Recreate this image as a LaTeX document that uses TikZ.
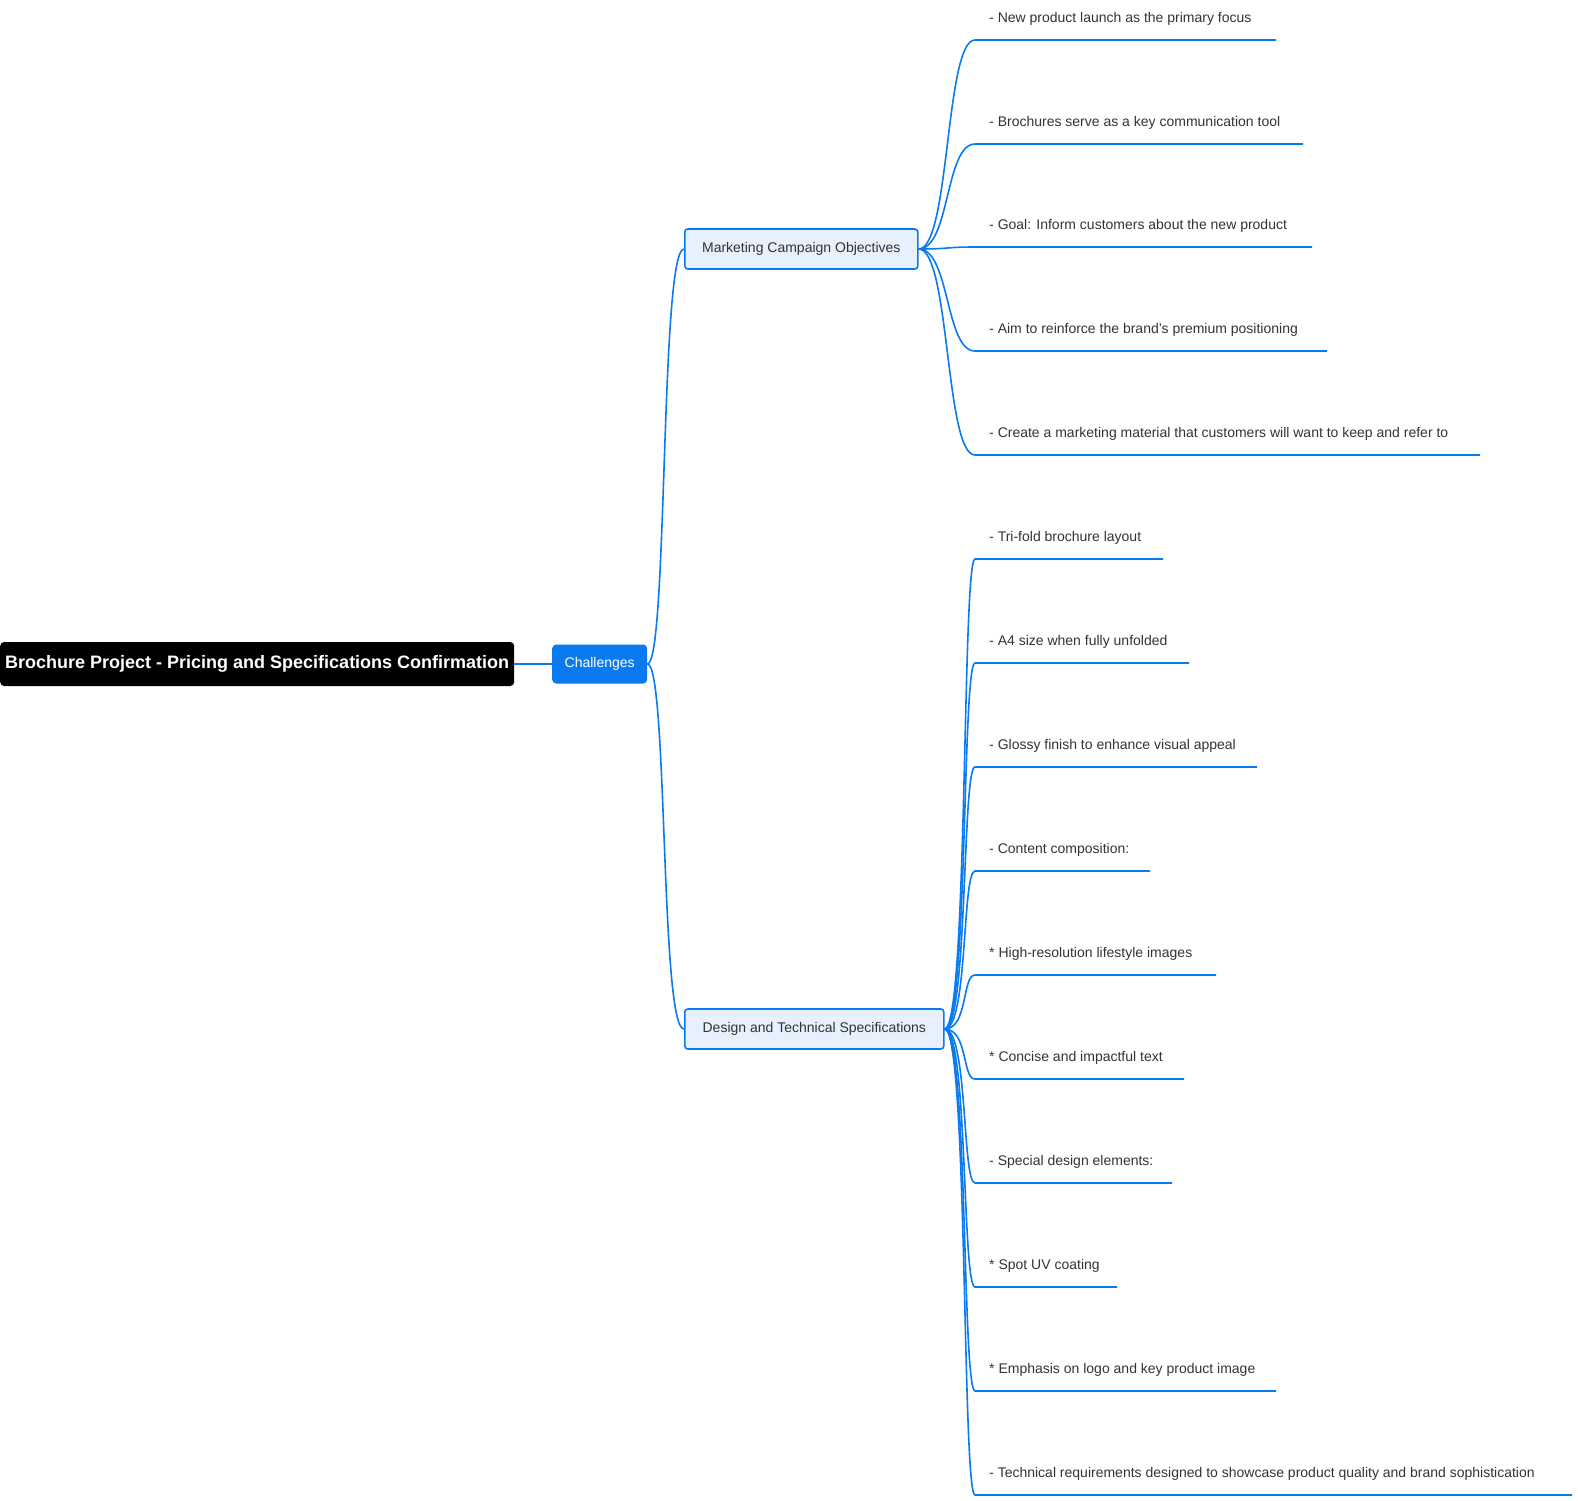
\documentclass[tikz,border=0pt]{standalone}
\usepackage{fontspec}
\setmainfont{Liberation Sans}
\definecolor{mblue}{HTML}{0A7AF0}
\definecolor{lblue}{HTML}{E6F1FD}
\definecolor{txt}{HTML}{333333}
\begin{document}
\begin{tikzpicture}[x=1pt,y=-1pt,
  conn/.style={draw=mblue,line width=1.6pt},
  leaf/.style={anchor=south west,inner sep=0pt,font=\fontsize{14}{16}\selectfont,text=txt},
  sub/.style={draw=mblue,line width=1.6pt,fill=lblue,rounded corners=3pt,minimum height=40pt,inner xsep=12pt,font=\fontsize{14}{16}\selectfont,text=txt}]
\useasboundingbox (0,0) rectangle (1578,1500);
\node[fill=black,rounded corners=4pt,text=white,font=\bfseries\fontsize{18}{20}\selectfont,minimum width=514pt,minimum height=44pt,anchor=west] (root) at (0,664) {Brochure Project - Pricing and Specifications Confirmation};
\node[fill=mblue,rounded corners=4pt,text=white,font=\fontsize{14}{16}\selectfont,minimum width=95pt,minimum height=39pt,anchor=west] (ch) at (552,664) {Challenges};
\node[sub,anchor=west,minimum width=233pt] (mk) at (684,249) {Marketing Campaign Objectives};
\node[sub,anchor=west,minimum width=259pt] (ds) at (684,1029) {Design and Technical Specifications};
\draw[conn] (root.east) -- (ch.west);
\draw[conn] (ch.east) .. controls (668,664) and (660,249) .. (mk.west);
\draw[conn] (ch.east) .. controls (668,664) and (660,1029) .. (ds.west);
\foreach \y/\e/\t [count=\i] in {40/1276/{- New product launch as the primary focus},144/1303/{- Brochures serve as a key communication tool},247/1312/{- Goal: Inform customers about the new product},351/1327/{- Aim to reinforce the brand's premium positioning},455/1480/{- Create a marketing material that customers will want to keep and refer to}}{
  \coordinate (ma\i) at (975,\y); \coordinate (mb\i) at (\e,\y);
  \node[leaf] (mt\i) at (989,\y-14) {\t};
  \draw[conn] (mk.east) .. controls (950,249) and (945,\y) .. (ma\i) -- (mb\i);
}
\foreach \y/\e/\t [count=\i] in {559/1163/{- Tri-fold brochure layout},663/1189/{- A4 size when fully unfolded},767/1257/{- Glossy finish to enhance visual appeal},871/1150/{- Content composition:},975/1216/{* High-resolution lifestyle images},1079/1184/{* Concise and impactful text},1183/1172/{- Special design elements:},1287/1117/{* Spot UV coating},1391/1276/{* Emphasis on logo and key product image},1495/1572/{- Technical requirements designed to showcase product quality and brand sophistication}}{
  \coordinate (da\i) at (975,\y); \coordinate (db\i) at (\e,\y);
  \node[leaf] (dt\i) at (989,\y-14) {\t};
  \draw[conn] (ds.east) .. controls (968,1029) and (962,\y) .. (da\i) -- (db\i);
}
\end{tikzpicture}
\end{document}
